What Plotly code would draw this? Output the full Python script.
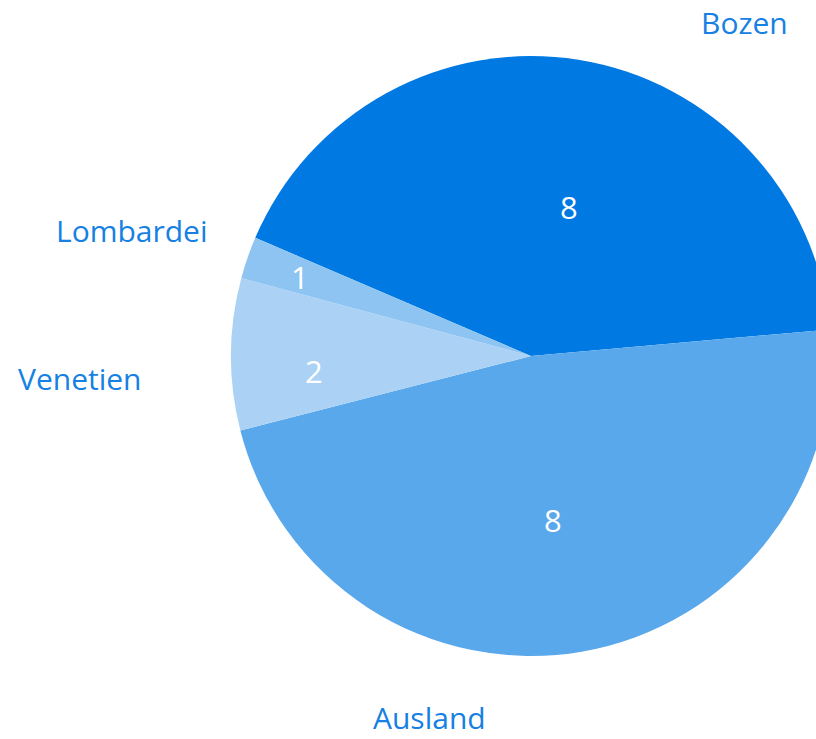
import plotly.graph_objects as go

# Data
categories = ["Bozen", "Ausland", "Venetien", "Lombardei"]
value_labels = ["8", "8", "2", "1"]          # numbers printed in the slices
slice_sizes = [8.0, 9.0, 1.55, 0.43]          # slice sizes as measured from the angles
colors = ["#0079e2", "#5aa8ec", "#abd2f5", "#8ec4f2"]

W, H = 840, 739
cx, cy, r = 531, 356, 300
FONT = "Open Sans"

fig = go.Figure(go.Pie(
    labels=categories,
    values=slice_sizes,
    textinfo="none",
    sort=False,
    direction="clockwise",
    rotation=-66.8,
    marker=dict(colors=colors, line=dict(width=0)),
    domain=dict(x=[(cx - r) / W, (cx + r) / W], y=[(H - cy - r) / H, (H - cy + r) / H]),
    showlegend=False,
    hoverinfo="label+value",
))

# category labels outside the pie (x centre, y centre / bottom for Ausland)
label_pos = {"Bozen": (744, 22, "middle"), "Ausland": (430, 739, "bottom"),
             "Venetien": (80, 378, "middle"), "Lombardei": (132, 231, "middle")}
# value labels inside the slices
value_pos = {"Bozen": (569, 207), "Ausland": (553, 520), "Venetien": (314, 371), "Lombardei": (300, 277)}
for name, val in zip(categories, value_labels):
    x, y, anc = label_pos[name]
    fig.add_annotation(x=x / W, y=1 - y / H, xref="paper", yref="paper", text=name,
                       showarrow=False, xanchor="center", yanchor=anc, borderpad=0,
                       font=dict(family=FONT, size=30, color="#1680e3"))
    x, y = value_pos[name]
    fig.add_annotation(x=x / W, y=1 - y / H, xref="paper", yref="paper", text=val,
                       showarrow=False, xanchor="center", yanchor="middle",
                       font=dict(family=FONT, size=31, color="white"))

fig.update_layout(width=W, height=H, margin=dict(l=0, r=0, t=0, b=0),
                  paper_bgcolor="white", plot_bgcolor="white")

fig.write_html("out.html", config={"displayModeBar": False},
               post_script="document.body.style.margin='0';document.body.style.overflow='hidden';")
